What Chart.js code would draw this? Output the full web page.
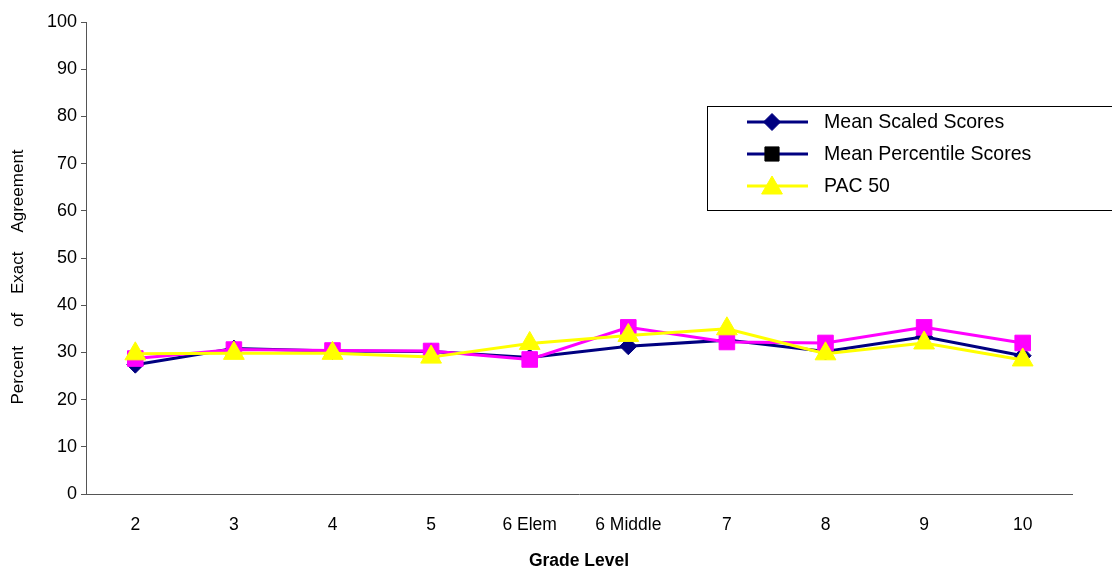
<!DOCTYPE html>
<html>
<head>
<meta charset="utf-8">
<script src="https://cdn.jsdelivr.net/npm/chart.js@4/dist/chart.umd.min.js"></script>
<style>
  html, body { margin: 0; padding: 0; background: #fff; }
  #wrap { width: 1112px; height: 573px; position: relative; }
</style>
</head>
<body>
<div id="wrap"><canvas id="c"></canvas></div>
<script>
// Grade levels along the x axis
const grades = ['2', '3', '4', '5', '6 Elem', '6 Middle', '7', '8', '9', '10'];

// Percent of exact agreement per grade
const meanScaled     = [27.4, 30.8, 30.3, 30.2, 28.9, 31.3, 32.6, 30.2, 33.3, 29.3];
const meanPercentile = [28.7, 30.6, 30.4, 30.3, 28.5, 35.3, 32.2, 32.0, 35.3, 32.0];
const pac50          = [29.7, 29.8, 29.8, 29.0, 31.9, 33.6, 35.0, 29.7, 32.0, 28.4];

const seriesNames = ['Mean Scaled Scores', 'Mean Percentile Scores', 'PAC 50'];
const yTitle = 'Percent    of    Exact    Agreement';
const xTitle = 'Grade Level';

// Value axis range
const yMin = 0, yMax = 100, yStep = 10;

const FONT = "'Liberation Sans', Arial, sans-serif";

// Rotated value-axis caption, placed in the left margin
const yCaptionPlugin = {
  id: 'yCaption',
  afterDraw(chart) {
    const ctx = chart.ctx;
    ctx.save();
    ctx.translate(18, 277);
    ctx.rotate(-Math.PI / 2);
    ctx.fillStyle = '#000';
    ctx.font = '17px ' + FONT;
    ctx.textAlign = 'center';
    ctx.textBaseline = 'middle';
    ctx.fillText(yTitle, 0, 0);
    ctx.restore();
  }
};

// Key drawn inside the plot, top right
const keyPlugin = {
  id: 'key',
  afterDraw(chart) {
    const ctx = chart.ctx;
    const bx = 707.5, by = 106.5, bw = 420, bh = 104;
    ctx.save();
    ctx.fillStyle = '#fff';
    ctx.fillRect(bx, by, bw, bh);
    ctx.strokeStyle = '#000';
    ctx.lineWidth = 1;
    ctx.strokeRect(bx, by, bw, bh);

    const rows = [
      { y: 122, line: '#000080', fill: '#000080', shape: 'rectRot', r: 8.5 },
      { y: 154, line: '#000080', fill: '#000000', shape: 'rect', r: 10 },
      { y: 186, line: '#FFFF00', fill: '#FFFF00', shape: 'triangle', r: 12 }
    ];
    rows.forEach((row, i) => {
      ctx.strokeStyle = row.line;
      ctx.lineWidth = 3;
      ctx.beginPath();
      ctx.moveTo(747, row.y);
      ctx.lineTo(808, row.y);
      ctx.stroke();
      ctx.fillStyle = row.fill;
      ctx.strokeStyle = row.fill;
      ctx.lineWidth = 1;
      Chart.helpers.drawPoint(ctx, { pointStyle: row.shape, radius: row.r, rotation: 0, borderWidth: 1 }, 772, row.shape === 'triangle' ? row.y + 2 : row.y);
      // slightly condensed label text
      ctx.save();
      ctx.translate(824, row.y);
      ctx.scale(0.93, 1);
      ctx.fillStyle = '#000';
      ctx.font = '21px ' + FONT;
      ctx.textBaseline = 'middle';
      ctx.textAlign = 'left';
      ctx.fillText(seriesNames[i], 0, 0);
      ctx.restore();
    });
    ctx.restore();
  }
};

new Chart(document.getElementById('c'), {
  type: 'line',
  data: {
    labels: grades,
    datasets: [
      {
        label: seriesNames[0],
        data: meanScaled,
        borderColor: '#000080',
        backgroundColor: '#000080',
        borderWidth: 3,
        pointStyle: 'rectRot',
        pointRadius: 8.5,
        pointBorderWidth: 1,
        order: 3
      },
      {
        label: seriesNames[1],
        data: meanPercentile,
        borderColor: '#FF00FF',
        backgroundColor: '#FF00FF',
        borderWidth: 3,
        pointStyle: 'rect',
        pointRadius: 11,
        pointBorderWidth: 1,
        order: 2
      },
      {
        label: seriesNames[2],
        data: pac50,
        borderColor: '#FFFF00',
        backgroundColor: '#FFFF00',
        borderWidth: 3,
        pointStyle: 'triangle',
        pointRadius: 12,
        pointBorderWidth: 1,
        order: 1
      }
    ]
  },
  options: {
    responsive: true,
    maintainAspectRatio: false,
    animation: false,
    events: [],
    layout: { padding: { left: 0, right: 40, top: 22, bottom: 0 } },
    plugins: {
      legend: { display: false },
      tooltip: { enabled: false }
    },
    scales: {
      x: {
        offset: true,
        grid: { display: false, drawTicks: false },
        border: { display: true, color: '#555', width: 1 },
        ticks: { color: '#000', font: { family: FONT, size: 17.5 }, padding: 21, maxRotation: 0, autoSkip: false },
        title: {
          display: true,
          text: xTitle,
          color: '#000',
          font: { family: FONT, size: 17.5, weight: 'bold' },
          padding: { top: 0, bottom: 1 }
        },
        afterFit(scale) { scale.height = 79; }
      },
      y: {
        min: yMin,
        max: yMax,
        ticks: { stepSize: yStep, color: '#000', font: { family: FONT, size: 18 }, padding: 4 },
        grid: { display: true, drawOnChartArea: false, drawTicks: true, tickLength: 5, color: '#555' },
        border: { display: true, color: '#555', width: 1 },
        afterFit(scale) { scale.width = 86; }
      }
    }
  },
  plugins: [yCaptionPlugin, keyPlugin]
});
</script>
</body>
</html>
